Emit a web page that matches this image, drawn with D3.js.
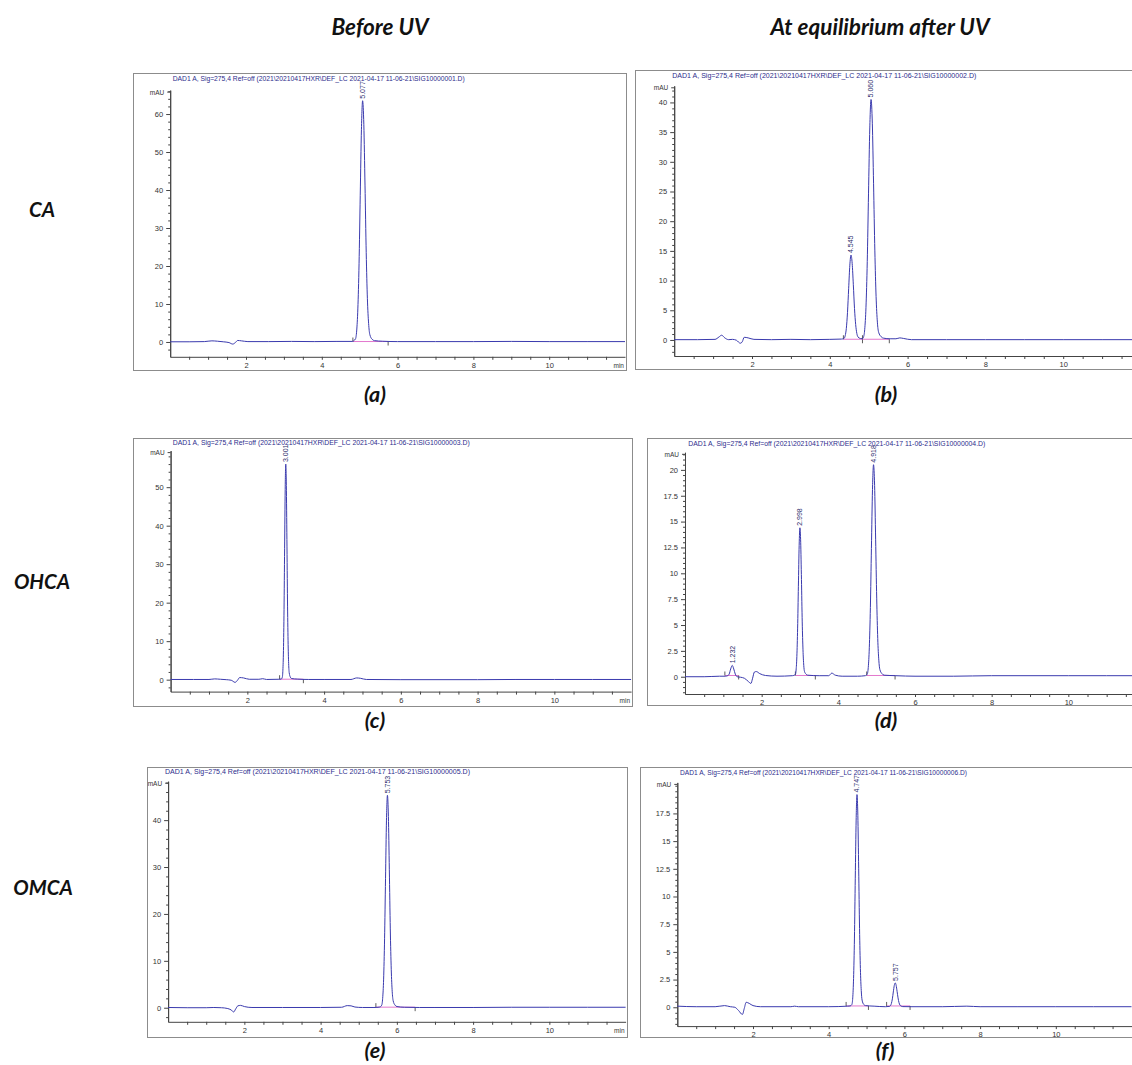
<!DOCTYPE html>
<html><head><meta charset="utf-8">
<script src="https://cdn.jsdelivr.net/npm/d3@7"></script>
<style>body{margin:0;background:#fff;} svg{display:block;}</style>
</head><body>
<svg id="c" width="1132" height="1065"></svg>
<script>
// ---------- DATA ----------
const columnHeaders = ["Before UV", "At equilibrium after UV"];
const rowLabels = ["CA", "OHCA", "OMCA"];
const panelLetters = ["(a)", "(b)", "(c)", "(d)", "(e)", "(f)"];
const fileNames = ["SIG10000001.D", "SIG10000002.D", "SIG10000003.D", "SIG10000004.D", "SIG10000005.D", "SIG10000006.D"];
const titlePrefix = "DAD1 A, Sig=275,4 Ref=off (2021\\20210417HXR\\DEF_LC 2021-04-17 11-06-21\\";
const xTickLabels = [2, 4, 6, 8, 10];
const xUnit = "min";
const yUnit = "mAU";

// traces: [retention time (min), absorbance (mAU)]
const traceA = [
[0.00,0.05],[0.50,0.05],[0.90,0.10],[1.10,0.30],[1.25,0.20],[1.40,0.05],[1.55,-0.15],[1.65,-0.55],[1.72,-0.15],[1.78,0.40],[1.88,0.30],[2.05,0.10],[2.60,0.10],[3.20,0.15],[3.80,0.10],[4.40,0.15],[4.80,0.15],
[4.888,0.8],[4.920,2.9],[4.951,8.7],[4.983,20.6],[5.014,38.5],[5.046,56.0],[5.077,63.5],[5.109,57.2],[5.140,41.3],[5.172,23.5],[5.203,11.4],[5.235,4.9],[5.266,2.0],[5.329,0.7],[5.392,0.35],
[5.60,0.20],[6.00,0.10],[7.00,0.10],[8.00,0.10],[9.00,0.15],[10.00,0.10],[11.00,0.10],[12.00,0.10]];
const traceB = [
[0.00,0.05],[0.60,0.05],[1.05,0.10],[1.15,0.50],[1.22,0.80],[1.30,0.35],[1.40,0.05],[1.50,0.10],[1.60,-0.05],[1.70,-0.55],[1.75,-0.30],[1.80,0.45],[1.90,0.35],[2.05,0.10],[2.50,0.05],[3.00,0.10],[3.50,0.05],[4.00,0.10],[4.30,0.15],
[4.365,0.25],[4.395,0.70],[4.425,1.95],[4.455,4.65],[4.485,8.70],[4.515,12.6],[4.545,14.3],[4.575,12.9],[4.605,9.3],[4.635,5.3],[4.665,2.6],[4.695,1.1],[4.725,0.5],[4.785,0.25],[4.84,0.2],
[4.865,0.45],[4.898,1.8],[4.930,5.5],[4.963,13.2],[4.995,24.6],[5.028,35.7],[5.060,40.5],[5.093,36.5],[5.125,26.3],[5.158,15.0],[5.190,7.3],[5.223,3.0],[5.255,1.3],[5.320,0.55],[5.385,0.3],
[5.55,0.2],[5.70,0.2],[5.80,0.35],[5.90,0.25],[6.10,0.05],[7.00,0.05],[8.00,0.05],[9.00,0.05],[10.00,0.05],[11.00,0.05],[12.00,0.05]];
const traceC = [
[0.00,0.05],[0.60,0.05],[1.00,0.05],[1.15,0.20],[1.30,0.10],[1.45,0.00],[1.58,-0.15],[1.68,-0.70],[1.74,-0.20],[1.80,0.55],[1.90,0.45],[2.05,0.10],[2.30,0.10],[2.40,0.25],[2.50,0.05],[2.80,0.10],
[2.881,0.15],[2.911,0.62],[2.926,2.46],[2.941,7.56],[2.956,18.2],[2.971,34.0],[2.986,49.4],[3.001,56.0],[3.016,50.4],[3.031,36.4],[3.046,20.7],[3.061,10.1],[3.076,4.2],[3.091,1.8],[3.121,0.65],[3.151,0.3],
[3.30,0.15],[3.60,0.05],[4.00,0.05],[4.70,0.05],[4.85,0.45],[4.95,0.35],[5.10,0.05],[6.00,0.00],[8.00,0.00],[9.00,0.05],[10.00,0.05],[11.00,0.05],[12.00,0.05]];
const traceD = [
[0.00,0.00],[0.50,0.00],[0.90,0.05],[1.05,0.05],[1.112,0.10],[1.152,0.25],[1.192,0.75],[1.232,1.10],[1.272,0.75],[1.312,0.25],[1.36,0.0],[1.45,-0.05],[1.55,-0.15],[1.65,-0.45],[1.72,-0.65],[1.76,-0.2],[1.81,0.45],[1.86,0.5],[1.95,0.3],[2.10,0.12],[2.40,0.05],[2.80,0.10],
[2.878,0.2],[2.898,0.65],[2.918,1.95],[2.938,4.7],[2.958,8.75],[2.978,12.7],[2.998,14.4],[3.018,13.0],[3.038,9.4],[3.058,5.3],[3.078,2.6],[3.098,1.1],[3.118,0.5],[3.158,0.25],[3.198,0.15],
[3.50,0.10],[3.75,0.10],[3.83,0.35],[3.92,0.15],[4.10,0.05],[4.50,0.05],[4.70,0.10],
[4.753,0.25],[4.781,0.9],[4.808,2.8],[4.836,6.7],[4.863,12.4],[4.891,18.1],[4.918,20.5],[4.946,18.5],[4.973,13.3],[5.001,7.6],[5.028,3.7],[5.056,1.6],[5.083,0.7],[5.138,0.3],[5.193,0.15],
[5.50,0.10],[6.00,0.05],[7.00,0.05],[8.00,0.10],[9.00,0.10],[10.00,0.10],[11.00,0.10],[12.00,0.10]];
const traceE = [
[0.00,0.05],[0.50,0.00],[1.00,0.00],[1.20,0.05],[1.40,0.00],[1.55,-0.15],[1.65,-0.45],[1.72,-0.90],[1.77,-0.3],[1.83,0.40],[1.90,0.50],[2.00,0.25],[2.20,0.05],[3.00,0.05],[4.00,0.05],[4.55,0.10],[4.70,0.45],[4.80,0.40],[4.90,0.15],[5.10,0.05],[5.40,0.05],
[5.553,0.15],[5.603,0.55],[5.628,2.0],[5.653,6.1],[5.678,14.7],[5.703,27.5],[5.728,40.0],[5.753,45.3],[5.778,40.8],[5.803,29.4],[5.828,16.8],[5.853,8.2],[5.878,3.5],[5.903,1.5],[5.953,0.55],[6.003,0.25],
[6.20,0.10],[6.60,0.05],[7.00,0.05],[8.00,0.05],[9.00,0.10],[10.00,0.10],[11.00,0.10],[12.00,0.10]];
const traceF = [
[0.00,0.10],[0.50,0.05],[1.00,0.05],[1.25,0.15],[1.40,0.05],[1.52,0.00],[1.62,-0.30],[1.72,-0.65],[1.77,-0.10],[1.82,0.45],[1.90,0.35],[2.00,0.15],[2.20,0.05],[3.00,0.05],[3.10,0.10],[3.20,0.05],[4.00,0.05],[4.50,0.10],
[4.567,0.12],[4.612,0.25],[4.635,0.85],[4.657,2.6],[4.680,6.25],[4.702,11.65],[4.725,16.9],[4.747,19.2],[4.770,17.3],[4.792,12.5],[4.815,7.1],[4.837,3.5],[4.860,1.5],[4.882,0.65],[4.927,0.25],[4.972,0.15],
[5.20,0.10],[5.50,0.05],[5.607,0.08],[5.632,0.15],[5.657,0.35],[5.682,0.76],[5.707,1.38],[5.732,1.96],[5.757,2.20],[5.782,1.98],[5.807,1.43],[5.832,0.85],[5.857,0.42],[5.882,0.2],[5.907,0.12],[5.957,0.06],
[6.20,0.05],[7.00,0.05],[7.65,0.10],[8.00,0.05],[9.00,0.05],[10.00,0.05],[11.00,0.05],[12.00,0.05]];

// labelled peaks: [retention time, height, label]
const peaksA = [[5.077, 63.5, "5.077"]];
const peaksB = [[4.545, 14.3, "4.545"], [5.060, 40.5, "5.060"]];
const peaksC = [[3.001, 56.0, "3.001"]];
const peaksD = [[1.232, 1.1, "1.232"], [2.998, 14.4, "2.998"], [4.918, 20.5, "4.918"]];
const peaksE = [[5.753, 45.3, "5.753"]];
const peaksF = [[4.747, 19.2, "4.747"], [5.757, 2.2, "5.757"]];

// integration baselines: [start, end]
const integA = [[4.82, 5.75]];
const integB = [[4.35, 4.84], [4.84, 5.53]];
const integC = [[2.84, 3.46]];
const integD = [[1.04, 1.40], [2.88, 3.40], [4.74, 5.48]];
const integE = [[5.45, 6.48]];
const integF = [[4.46, 5.05], [5.53, 6.15]];

// y tick labels and minor step
const yTicksA = [0, 10, 20, 30, 40, 50, 60];
const yTicksB = [0, 5, 10, 15, 20, 25, 30, 35, 40];
const yTicksC = [0, 10, 20, 30, 40, 50];
const yTicksD = [0, 2.5, 5, 7.5, 10, 12.5, 15, 17.5, 20];
const yTicksE = [0, 10, 20, 30, 40];
const yTicksF = [0, 2.5, 5, 7.5, 10, 12.5, 15, 17.5];
const yMinorSteps = [2, 1, 2, 0.5, 2, 0.5];

// ---------- LAYOUT ----------
const layout = [
 {frame:[133,73,626,370],  xr:[170.2,625.0],  yd:[-3.9,66.3],  yr:[356.8,90.1],  title:[172.7,80.5,292], letter:[375,402], showMin:true},
 {frame:[635,70,1150,369], xr:[674.2,1141.0], yd:[-2.7,42.8],  yr:[356.0,85.8],  title:[672.3,77.5,304], letter:[886,402], showMin:false},
 {frame:[133,438,632,706], xr:[170.6,631.1],  yd:[-3.1,59.5],  yr:[691.6,450.6], title:[172.7,444.8,297], letter:[375,728], showMin:true},
 {frame:[647,438,1150,705],xr:[685.0,1145.0], yd:[-1.67,21.7], yr:[694.0,452.3], title:[688.3,445.8,297], letter:[886,728], showMin:false},
 {frame:[147,767,627,1037],xr:[168.1,625.6],  yd:[-3.0,48.3],  yr:[1021.8,781.2],title:[165.0,774.2,305], letter:[375,1058], showMin:true},
 {frame:[640,767,1150,1037],xr:[677.3,1131.5],yd:[-1.7,20.3],  yr:[1026.1,782.4],title:[680.0,774.5,287], letter:[885,1058], showMin:false}
];
const traces = [traceA, traceB, traceC, traceD, traceE, traceF];
const peaks = [peaksA, peaksB, peaksC, peaksD, peaksE, peaksF];
const integs = [integA, integB, integC, integD, integE, integF];
const yTicks = [yTicksA, yTicksB, yTicksC, yTicksD, yTicksE, yTicksF];

const svg = d3.select("#c");
const bigFont = "Lato, 'Open Sans', sans-serif";
const smallFont = "'Liberation Sans', Arial, sans-serif";

function bigText(x, y, t, size) {
  svg.append("text").attr("x", x).attr("y", y).attr("text-anchor", "middle")
    .attr("font-family", bigFont).attr("font-weight", "bold").attr("font-style", "italic")
    .attr("font-size", size).attr("fill", "#111").text(t);
}
// column headers
bigText(380, 35, columnHeaders[0], 22.5);
bigText(880, 35, columnHeaders[1], 22.5);
// row labels
bigText(42, 217, rowLabels[0], 20.5);
bigText(42, 589, rowLabels[1], 20.5);
bigText(43, 895, rowLabels[2], 20.5);

layout.forEach((L, i) => {
  const g = svg.append("g");
  const [fx0, fy0, fx1, fy1] = L.frame;
  g.append("rect").attr("x", fx0 + 0.5).attr("y", fy0 + 0.5).attr("width", fx1 - fx0).attr("height", fy1 - fy0)
    .attr("fill", "#fff").attr("stroke", "#8c8c8c").attr("stroke-width", 1);

  const x = d3.scaleLinear().domain([0, 12]).range(L.xr);
  const y = d3.scaleLinear().domain(L.yd).range(L.yr);

  // title
  g.append("text").attr("x", L.title[0]).attr("y", L.title[1])
    .attr("textLength", L.title[2]).attr("lengthAdjust", "spacingAndGlyphs")
    .attr("font-family", smallFont).attr("font-size", 7).attr("fill", "#2c2c8c")
    .text(titlePrefix + fileNames[i] + ")");

  // y axis
  const major = yTicks[i];
  const step = yMinorSteps[i];
  const minor = d3.range(Math.ceil(L.yd[0] / step) * step, L.yd[1], step).filter(v => !major.some(m => Math.abs(m - v) < 1e-6));
  const yAxisX = L.xr[0];
  g.append("g").attr("transform", `translate(${yAxisX},0)`)
    .call(d3.axisLeft(y).tickValues(major).tickSize(4).tickSizeOuter(0).tickFormat(d => String(d)));
  g.append("g").attr("transform", `translate(${yAxisX},0)`)
    .call(d3.axisLeft(y).tickValues(minor).tickSize(2).tickSizeOuter(0).tickFormat(""));
  // mAU label
  g.append("line").attr("x1", yAxisX - 3).attr("x2", yAxisX).attr("y1", L.yr[1] + 2).attr("y2", L.yr[1] + 2).attr("stroke", "#444");
  g.append("text").attr("x", yAxisX - 6).attr("y", L.yr[1] + 4.5).attr("text-anchor", "end")
    .attr("font-family", smallFont).attr("font-size", 6.5).attr("fill", "#333").text(yUnit);

  // x axis
  const xt = d3.range(0.5, 12, 0.5);
  g.append("g").attr("transform", `translate(0,${L.yr[0]})`)
    .call(d3.axisBottom(x).tickValues(xt).tickSize(3).tickSizeOuter(0)
      .tickFormat(d => xTickLabels.includes(d) ? String(d) : ""));
  if (L.showMin) {
    g.append("text").attr("x", L.xr[1] - 1).attr("y", L.yr[0] + 11.5).attr("text-anchor", "end")
      .attr("font-family", smallFont).attr("font-size", 6.5).attr("fill", "#333").text(xUnit);
  }

  g.selectAll(".domain").attr("stroke", "#444").attr("stroke-width", 1);
  g.selectAll(".tick line").attr("stroke", "#444");
  g.selectAll(".tick text").attr("font-family", smallFont).attr("font-size", 7.5).attr("fill", "#333");

  // integration baselines
  const base = 0.12;
  integs[i].forEach(([t0, t1]) => {
    g.append("line").attr("x1", x(t0)).attr("x2", x(t1)).attr("y1", y(base)).attr("y2", y(base))
      .attr("stroke", "#e06ac8").attr("stroke-width", 0.9);
    g.append("line").attr("x1", x(t0)).attr("x2", x(t0)).attr("y1", y(base)).attr("y2", y(base) - 4)
      .attr("stroke", "#333").attr("stroke-width", 0.8);
    g.append("line").attr("x1", x(t1)).attr("x2", x(t1)).attr("y1", y(base)).attr("y2", y(base) + 4)
      .attr("stroke", "#333").attr("stroke-width", 0.8);
  });

  // trace
  const line = d3.line().x(d => x(d[0])).y(d => y(d[1])).curve(d3.curveMonotoneX);
  g.append("path").datum(traces[i]).attr("d", line)
    .attr("fill", "none").attr("stroke", "#3a3aae").attr("stroke-width", 1);

  // peak labels
  peaks[i].forEach(([t, h, lab]) => {
    const px = x(t) + 2.4, py = y(h) - 2;
    g.append("text").attr("transform", `translate(${px},${py}) rotate(-90)`)
      .attr("font-family", smallFont).attr("font-size", 7).attr("fill", "#2c2c6c").text(lab);
  });

  // panel letter
  bigText(L.letter[0], L.letter[1], panelLetters[i], 21.5);
});
</script>
</body></html>
